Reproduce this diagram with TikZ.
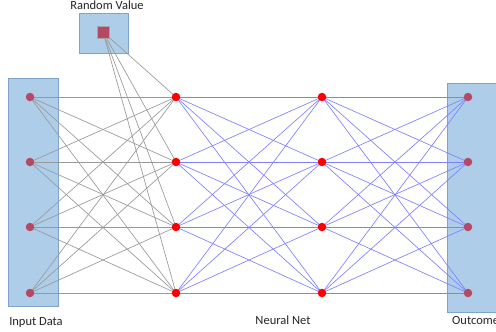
\documentclass[tikz,border=0pt]{standalone}
\usepackage{fontspec}
\setmainfont{Carlito}
\begin{document}
\begin{tikzpicture}[x=1pt,y=-1pt,
  panel/.style={draw=boxedge,fill=boxfill,line width=0.7pt},
  iodot/.style={circle,fill=iocol,inner sep=0pt,minimum size=8.5pt},
  hdot/.style={circle,fill=red,inner sep=0pt,minimum size=8.5pt},
  rsq/.style={draw=gray!70,fill=iocol,inner sep=0pt,minimum size=12pt},
  gline/.style={draw=gray!80,line width=0.65pt},
  bline/.style={draw=blue!50,line width=0.65pt},
  lbl/.style={font=\fontsize{12.5}{14}\selectfont,text=black!85,inner sep=0pt}]
\definecolor{boxfill}{HTML}{AECDE9}
\definecolor{boxedge}{HTML}{7FA3CB}
\definecolor{iocol}{HTML}{B54862}
\useasboundingbox (0,0) rectangle (496,332);
\fill[white] (0,0) rectangle (496,332);
% panels
\node[panel,minimum width=50pt,minimum height=228pt,inner sep=0pt] (inbox) at (33,192) {};
\node[panel,minimum width=49pt,minimum height=40pt,inner sep=0pt] (rbox) at (103.5,33) {};
\node[panel,minimum width=52pt,minimum height=229pt,inner sep=0pt,anchor=north west] (outbox) at (447,83) {};
% labels
\node[lbl] (lrand) at (107,5) {Random Value};
\node[lbl] (lin) at (36,322) {Input Data};
\node[lbl] (lnn) at (283,320) {Neural Net};
\node[lbl,anchor=west] (lout) at (452,320) {Outcome};
% nodes
\foreach \i/\y in {1/97,2/162,3/227,4/293}{
  \coordinate (i\i) at (30,\y);
  \coordinate (h\i) at (176,\y);
  \coordinate (k\i) at (322,\y);
  \coordinate (o\i) at (468,\y);
}
\coordinate (r) at (103,32);
% edges
\foreach \a in {1,...,4}{
  \draw[gline] (r) -- (h\a);
  \foreach \b in {1,...,4}{
    \draw[gline] (i\a) -- (h\b);
    \draw[bline] (h\a) -- (k\b);
    \draw[bline] (k\a) -- (o\b);
  }
}
\foreach \a in {1,...,4}{
  \node[iodot] (ni\a) at (i\a) {};
  \node[hdot] (nh\a) at (h\a) {};
  \node[hdot] (nk\a) at (k\a) {};
  \node[iodot] (no\a) at (o\a) {};
}
\node[rsq] (nr) at (r) {};
\end{tikzpicture}
\end{document}
